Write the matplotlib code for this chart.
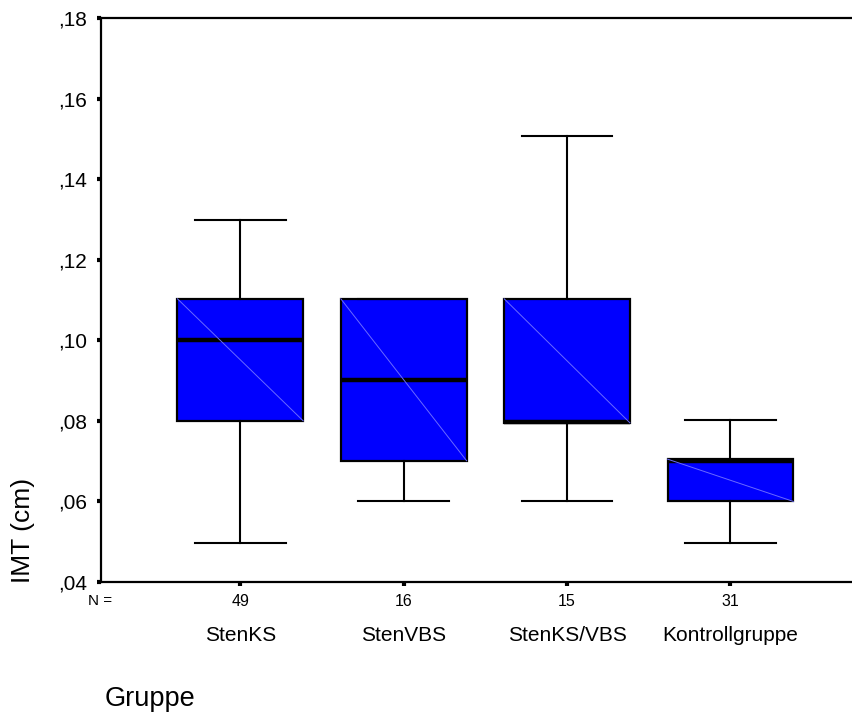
import numpy as np
import matplotlib
matplotlib.use("Agg")
from matplotlib import pyplot as plt

plt.rcParams['font.family'] = ['Liberation Sans', 'DejaVu Sans']

# box statistics
groups = ["StenKS", "StenVBS", "StenKS/VBS", "Kontrollgruppe"]
counts = [49, 16, 15, 31]
whislo = [0.0497, 0.0600, 0.0600, 0.0497]
q1 = [0.0800, 0.0701, 0.0795, 0.0600]
med = [0.1000, 0.0902, 0.0798, 0.0700]
q3 = [0.1103, 0.1103, 0.1103, 0.0705]
whishi = [0.1299, 0.1103, 0.1506, 0.0801]
yticks = [0.04, 0.06, 0.08, 0.10, 0.12, 0.14, 0.16, 0.18]
ytick_labels = [",04", ",06", ",08", ",10", ",12", ",14", ",16", ",18"]

fig = plt.figure(figsize=(8.53, 7.18), dpi=100)
ax = fig.add_axes([101 / 853, 1 - 582 / 718, 1 - 101 / 853 + 0.002, (582 - 18) / 718])

stats = []
for i in range(len(groups)):
    stats.append({"whislo": whislo[i], "q1": q1[i], "med": med[i],
                  "q3": q3[i], "whishi": whishi[i], "fliers": []})

pos = np.arange(1, len(groups) + 1)
bw = 0.77
ax.bxp(stats, positions=pos, widths=bw, patch_artist=True, showfliers=False,
       capwidths=bw * 0.72,
       boxprops=dict(facecolor="#0000ff", edgecolor="black", linewidth=1.6),
       medianprops=dict(color="black", linewidth=3.2),
       whiskerprops=dict(color="black", linewidth=1.5),
       capprops=dict(color="black", linewidth=1.5))

# the thin diagonal line SPSS draws inside each box
for i, p in enumerate(pos):
    ax.plot([p - bw / 2, p + bw / 2], [q3[i], q1[i]], color="#6a6aff",
            linewidth=0.7, zorder=3)

ax.set_xlim(1 - 139 / 163, 1 + (853 - 240) / 163)
ax.set_ylim(0.04, 0.18)
ax.set_yticks(yticks)
ax.set_yticklabels(ytick_labels, fontsize=15)
ax.set_xticks(pos)
ax.set_xticklabels([str(c) for c in counts], fontsize=11.5)
ax.tick_params(axis="both", direction="out", length=3, width=3, color="black")
ax.tick_params(axis="y", pad=7)
ax.tick_params(axis="x", pad=6)

for s in ["left", "bottom", "top"]:
    ax.spines[s].set_linewidth(1.6)
ax.spines["right"].set_visible(False)

# group names under the counts
for i, p in enumerate(pos):
    ax.text(p, -0.095, groups[i], transform=ax.get_xaxis_transform(),
            ha="center", va="center", fontsize=15)
fig.text(100 / 853, 1 - 601 / 718, "N =", ha="center", va="center", fontsize=11)

fig.text(23 / 853, 1 - 530 / 718, "IMT (cm)", rotation=90, ha="center",
         va="center", fontsize=19)
fig.text(105 / 853, 1 - 706 / 718, "Gruppe", ha="left", va="baseline",
         fontsize=19.5)

fig.savefig("out.png", dpi=100)
